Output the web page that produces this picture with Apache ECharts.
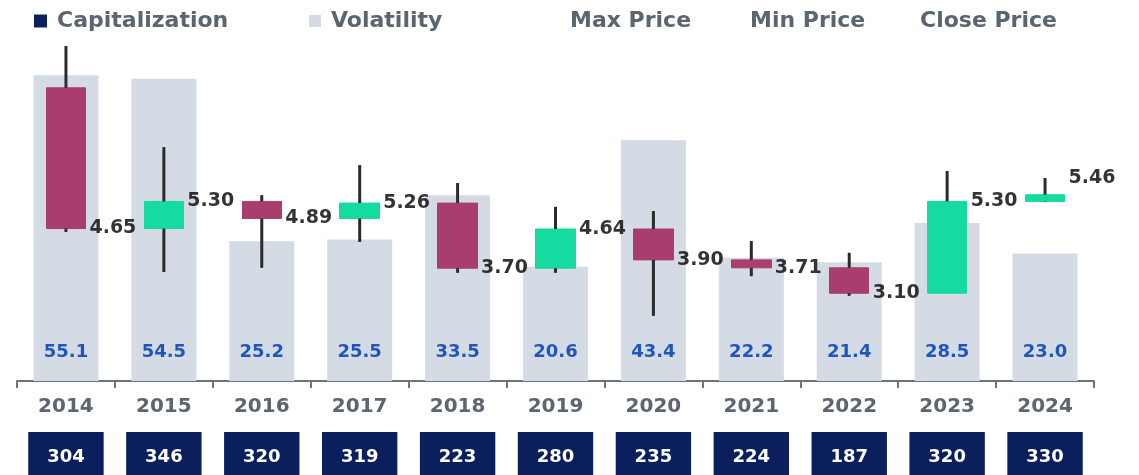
<!DOCTYPE html>
<html>
<head>
<meta charset="utf-8">
<script src="https://cdn.jsdelivr.net/npm/echarts@6/dist/echarts.min.js"></script>
<style>
  html, body { margin: 0; padding: 0; background: #fff; }
  #box { width: 1139px; height: 475px; }
</style>
</head>
<body>
<div id="box"></div>
<script>
var years = ['2014', '2015', '2016', '2017', '2018', '2019', '2020', '2021', '2022', '2023', '2024'];
var volatility = [55.1, 54.5, 25.2, 25.5, 33.5, 20.6, 43.4, 22.2, 21.4, 28.5, 23.0];
var openPrice = [8.02, 4.65, 5.30, 4.89, 5.26, 3.70, 4.64, 3.90, 3.71, 3.10, 5.30];
var closePrice = [4.65, 5.30, 4.89, 5.26, 3.70, 4.64, 3.90, 3.71, 3.10, 5.30, 5.46];
var maxPrice = [9.02, 6.60, 5.45, 6.17, 5.74, 5.17, 5.07, 4.35, 4.07, 6.03, 5.86];
var minPrice = [4.57, 3.61, 3.71, 4.33, 3.59, 3.59, 2.56, 3.51, 3.04, 3.10, 5.29];
var capitalization = [304, 346, 320, 319, 223, 280, 235, 224, 187, 320, 330];

var FONT = 'DejaVu Sans';
var NAVY = '#0b1f5c';
var GREY = '#d5dbe5';
var UP = '#16dba0';
var DOWN = '#a93e6e';
var WICK = '#2b2b2b';

var myCharts = echarts.init(document.getElementById('box'));

function legendAt(name, left, w) {
    return {
        data: [name],
        left: left,
        top: 10,
        padding: 0,
        itemWidth: w,
        itemHeight: w,
        itemGap: 0,
        icon: 'rect',
        selectedMode: false,
        textStyle: {
            color: '#5b6570', fontFamily: FONT, fontWeight: 'bold', fontSize: 22,
            padding: [0, 0, 0, w ? 5 : 0]
        }
    };
}

function wick(params, api) {
    var a = api.coord([api.value(0), api.value(1)]);
    var b = api.coord([api.value(0), api.value(2)]);
    return {
        type: 'line',
        shape: { x1: a[0], y1: a[1], x2: b[0], y2: b[1] },
        style: { stroke: WICK, lineWidth: 3 }
    };
}

var option = {
    animation: false,
    legend: [
        legendAt('Capitalization', 34, 13),
        legendAt('Volatility', 309, 12),
        legendAt('Max Price', 565, 0),
        legendAt('Min Price', 745, 0),
        legendAt('Close Price', 915, 0)
    ],
    grid: [
        { left: 17, right: 45, top: 26, bottom: 94 },
        { left: 17, right: 45, top: 432, height: 48 }
    ],
    xAxis: [
        {
            type: 'category',
            data: years,
            gridIndex: 0,
            axisLine: { lineStyle: { color: '#6b7580', width: 2 } },
            axisTick: { show: true, length: 7, lineStyle: { color: '#6b7580', width: 2 } },
            axisLabel: { color: '#5d6670', fontFamily: FONT, fontWeight: 'bold', fontSize: 20, margin: 16 }
        },
        { type: 'category', data: years, gridIndex: 1, show: false }
    ],
    yAxis: [
        { type: 'value', min: 1, max: 9.5, show: false, splitLine: { show: false } },
        { type: 'value', min: 0, max: 64, show: false, splitLine: { show: false } },
        { type: 'value', min: 0, max: 1, gridIndex: 1, show: false, splitLine: { show: false } }
    ],
    series: [
        {
            name: 'Volatility',
            type: 'bar',
            yAxisIndex: 1,
            barWidth: 65,
            z: 1,
            itemStyle: { color: GREY },
            data: volatility,
            label: {
                show: true,
                position: 'insideBottom',
                distance: 20,
                color: '#1f56bd',
                fontFamily: FONT,
                fontWeight: 'bold',
                fontSize: 18,
                formatter: function (p) { return p.value.toFixed(1); }
            }
        },
        {
            name: 'Price',
            type: 'candlestick',
            barWidth: 40,
            z: 2,
            itemStyle: { color: UP, color0: DOWN, borderColor: UP, borderColor0: DOWN, borderWidth: 1 },
            data: years.map(function (y, i) { return [openPrice[i], closePrice[i], minPrice[i], maxPrice[i]]; })
        },
        {
            name: 'Max Price',
            type: 'custom',
            z: 3,
            itemStyle: { color: WICK },
            renderItem: wick,
            encode: { x: 0, y: [1, 2] },
            data: maxPrice.map(function (v, i) { return [i, v, Math.max(openPrice[i], closePrice[i])]; })
        },
        {
            name: 'Min Price',
            type: 'custom',
            z: 3,
            itemStyle: { color: WICK },
            renderItem: wick,
            encode: { x: 0, y: [1, 2] },
            data: minPrice.map(function (v, i) { return [i, Math.min(openPrice[i], closePrice[i]), v]; })
        },
        {
            name: 'Close Price',
            type: 'scatter',
            symbolSize: 1,
            z: 4,
            itemStyle: { color: 'rgba(0,0,0,0)' },
            data: closePrice.map(function (v, i) {
                var d = { value: v };
                if (i === closePrice.length - 1) d.label = { offset: [0, -17] };
                return d;
            }),
            label: {
                show: true,
                position: 'right',
                distance: 23,
                color: '#000',
                fontFamily: FONT,
                fontWeight: 'bold',
                fontSize: 19,
                formatter: function (p) { return p.value.toFixed(2); }
            }
        },
        {
            name: 'Capitalization',
            type: 'custom',
            xAxisIndex: 1,
            yAxisIndex: 2,
            itemStyle: { color: NAVY },
            encode: { x: 0, y: 1 },
            data: capitalization.map(function (v, i) { return [i, v]; }),
            renderItem: function (params, api) {
                var cx = api.coord([api.value(0), 0])[0];
                var w = api.size([1, 0])[0] * 0.77;
                var cs = params.coordSys;
                return {
                    type: 'group',
                    children: [
                        {
                            type: 'rect',
                            shape: { x: cx - w / 2, y: cs.y, width: w, height: cs.height },
                            style: { fill: NAVY }
                        },
                        {
                            type: 'text',
                            x: cx,
                            y: cs.y + 25,
                            style: {
                                text: String(api.value(1)),
                                fill: '#fff',
                                font: 'bold 18px "' + FONT + '"',
                                align: 'center',
                                verticalAlign: 'middle'
                            }
                        }
                    ]
                };
            }
        }
    ]
};
myCharts.setOption(option);
</script>
</body>
</html>
